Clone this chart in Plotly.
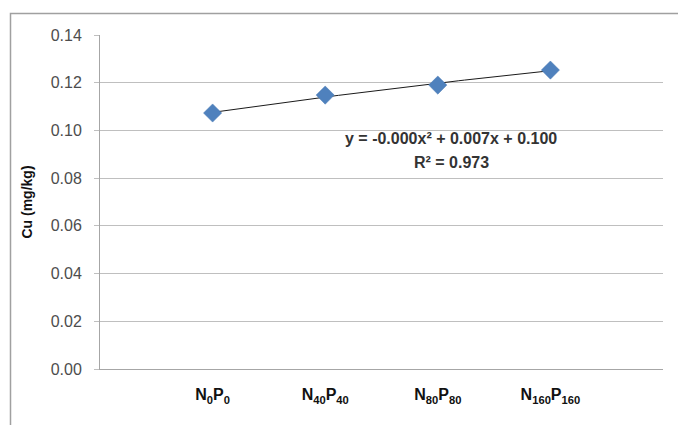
import numpy as np
import plotly.graph_objects as go

categories = ["N<sub>0</sub>P<sub>0</sub>", "N<sub>40</sub>P<sub>40</sub>",
              "N<sub>80</sub>P<sub>80</sub>", "N<sub>160</sub>P<sub>160</sub>"]
x_pos = [1, 2, 3, 4]
cu_values = [0.1073, 0.1148, 0.1190, 0.1253]
y_ticks = [0.00, 0.02, 0.04, 0.06, 0.08, 0.10, 0.12, 0.14]
equation_text = "y = -0.000x² + 0.007x + 0.100"
r2_text = "R² = 0.973"

coef = np.polyfit(x_pos, cu_values, 2)
xs = np.linspace(1, 4, 60)
ys = np.polyval(coef, xs)

PL, PT = 100, 35          # plot-area left / top in page pixels
PW, PH = 563, 334         # plot-area size

fig = go.Figure()
fig.add_trace(go.Scatter(x=xs, y=ys, mode="lines",
                         line=dict(color="#1a1a1a", width=1), hoverinfo="skip"))
fig.add_trace(go.Scatter(x=x_pos, y=cu_values, mode="markers",
                         marker=dict(symbol="diamond", size=14, color="#4F81BD",
                                     line=dict(color="#4a7ab5", width=0.5))))

fig.update_layout(
    width=678, height=425,
    margin=dict(l=PL, r=678 - PL - PW, t=PT, b=425 - PT - PH, autoexpand=False),
    paper_bgcolor="white", plot_bgcolor="white",
    showlegend=False,
    font=dict(family="Liberation Sans", color="#404040"),
    xaxis=dict(range=[0, 5], tickvals=x_pos, ticktext=categories,
               showgrid=False, zeroline=False, showline=True,
               linecolor="#a6a6a6", linewidth=1, ticks="",
               tickfont=dict(size=16, color="#111111", family="Liberation Sans", weight="bold"),
               ticklabelstandoff=11),
    yaxis=dict(range=[0, 0.14], tickvals=y_ticks, tickformat=".2f",
               showgrid=True, gridcolor="#bfbfbf", gridwidth=1,
               zeroline=False, showline=True, linecolor="#a6a6a6", linewidth=1,
               ticks="outside", ticklen=5, tickcolor="#bfbfbf",
               tickfont=dict(size=16, color="#4d4d4d"),
               ticklabelstandoff=9,
               title=dict(text="<b>Cu (mg/kg)</b>", font=dict(size=14, color="#111111"),
                          standoff=14)),
    annotations=[
        dict(x=0.624, y=1 - (138 - PT) / PH, xref="paper", yref="paper",
             xanchor="center", yanchor="middle",
             text="<b>" + equation_text + "</b>", showarrow=False,
             font=dict(size=16, color="#333333", family="Liberation Sans")),
        dict(x=0.624, y=1 - (162 - PT) / PH, xref="paper", yref="paper",
             xanchor="center", yanchor="middle",
             text="<b>" + r2_text + "</b>", showarrow=False,
             font=dict(size=16, color="#333333", family="Liberation Sans")),
    ],
    shapes=[
        dict(type="rect", xref="paper", yref="paper",
             x0=(10.5 - PL) / PW, x1=1.3, y0=-0.3, y1=1 + (PT - 13.5) / PH,
             line=dict(color="#a0a0a0", width=1.5)),
    ],
)

fig.write_html("out.html",
               config={"displayModeBar": False},
               post_script="document.body.style.margin='0';"
                           "document.body.style.overflow='hidden';")
